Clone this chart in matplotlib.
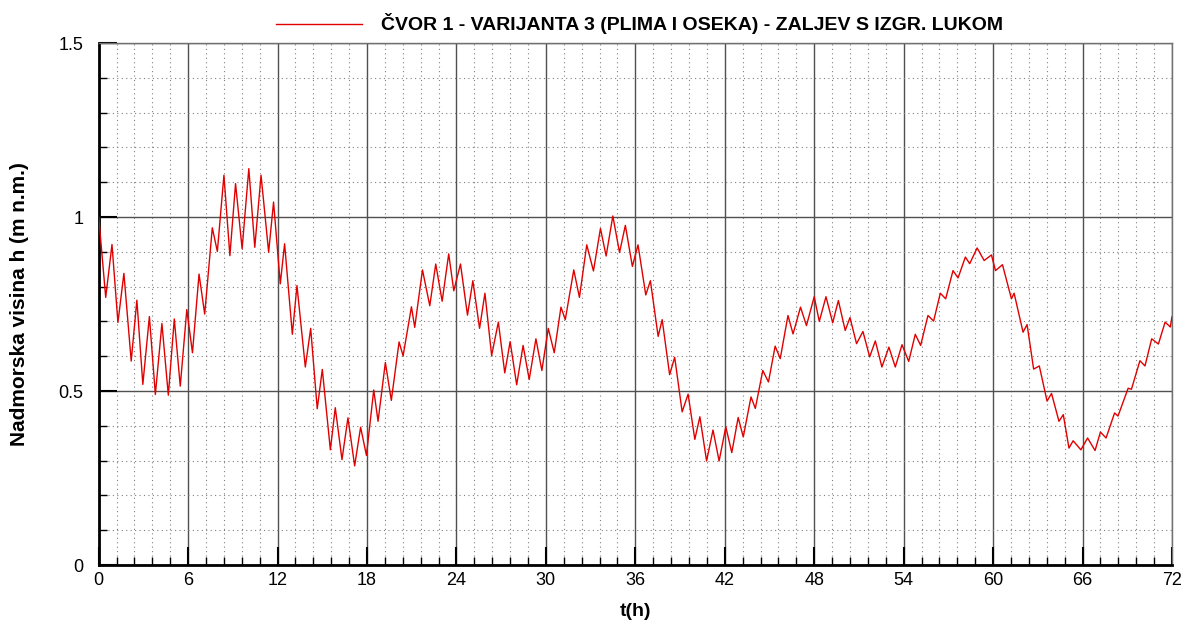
import matplotlib.pyplot as plt
import numpy as np
from matplotlib.ticker import MultipleLocator, FuncFormatter

# vrijeme (h) i razina (m n.m.) - ocitano s grafa (vrhovi i dolovi)
t_h = [0.0, 0.47, 0.89, 1.29, 1.69, 2.18, 2.56, 2.96, 3.4, 3.8, 4.24, 4.67, 5.07, 5.47, 5.91,
       6.29, 6.73, 7.11, 7.62, 7.96, 8.4, 8.8, 9.18, 9.62, 10.07, 10.47, 10.89, 11.4, 11.73, 12.18,
       12.47, 12.99, 13.3, 13.86, 14.22, 14.66, 15.0, 15.54, 15.87, 16.32, 16.72, 17.17, 17.57, 17.96,
       18.45, 18.74, 19.23, 19.63, 20.15, 20.42, 20.98, 21.2, 21.72, 22.21, 22.61, 23.04, 23.48, 23.82,
       24.27, 24.74, 25.1, 25.55, 25.91, 26.36, 26.81, 27.24, 27.6, 28.04, 28.47, 28.88, 29.33, 29.73,
       30.16, 30.56, 31.01, 31.3, 31.87, 32.25, 32.74, 33.19, 33.66, 34.04, 34.49, 34.94, 35.33, 35.8,
       36.18, 36.7, 37.01, 37.53, 37.8, 38.3, 38.64, 39.14, 39.54, 39.99, 40.33, 40.78, 41.21, 41.62,
       42.07, 42.47, 42.9, 43.24, 43.76, 44.05, 44.55, 44.93, 45.38, 45.72, 46.24, 46.58, 47.08, 47.48,
       48.0, 48.34, 48.79, 49.24, 49.62, 50.08, 50.4, 50.84, 51.27, 51.72, 52.1, 52.54, 53.01, 53.44,
       53.89, 54.34, 54.78, 55.14, 55.63, 56.01, 56.46, 56.82, 57.31, 57.65, 58.14, 58.43, 58.93, 59.4,
       59.89, 60.16, 60.63, 61.23, 61.41, 62.01, 62.28, 62.72, 63.1, 63.62, 63.92, 64.42, 64.71, 65.09,
       65.37, 65.89, 66.34, 66.84, 67.2, 67.58, 68.15, 68.38, 69.06, 69.28, 69.85, 70.19, 70.64, 71.09,
       71.54, 71.89, 72.0]
h_m = [1.0, 0.769, 0.921, 0.697, 0.838, 0.586, 0.761, 0.519, 0.714, 0.49, 0.694, 0.488, 0.707, 0.514, 0.734,
       0.61, 0.836, 0.721, 0.969, 0.901, 1.12, 0.889, 1.096, 0.909, 1.139, 0.913, 1.12, 0.899, 1.043, 0.808,
       0.923, 0.663, 0.803, 0.569, 0.68, 0.449, 0.562, 0.331, 0.452, 0.303, 0.423, 0.285, 0.396, 0.315,
       0.503, 0.413, 0.582, 0.473, 0.641, 0.601, 0.742, 0.683, 0.848, 0.745, 0.865, 0.758, 0.894, 0.788,
       0.865, 0.718, 0.817, 0.68, 0.781, 0.602, 0.698, 0.552, 0.642, 0.518, 0.631, 0.533, 0.65, 0.559,
       0.68, 0.61, 0.741, 0.705, 0.848, 0.769, 0.92, 0.845, 0.967, 0.888, 1.003, 0.898, 0.976, 0.858,
       0.92, 0.776, 0.817, 0.657, 0.705, 0.547, 0.597, 0.44, 0.491, 0.361, 0.426, 0.299, 0.388, 0.299,
       0.397, 0.323, 0.424, 0.368, 0.483, 0.45, 0.559, 0.526, 0.629, 0.593, 0.717, 0.664, 0.741, 0.688,
       0.771, 0.7, 0.771, 0.696, 0.76, 0.674, 0.711, 0.636, 0.671, 0.598, 0.644, 0.569, 0.626, 0.569,
       0.633, 0.585, 0.663, 0.631, 0.717, 0.701, 0.781, 0.765, 0.846, 0.825, 0.885, 0.866, 0.911, 0.875,
       0.891, 0.846, 0.863, 0.765, 0.781, 0.669, 0.691, 0.563, 0.572, 0.471, 0.493, 0.413, 0.432, 0.336,
       0.357, 0.331, 0.365, 0.329, 0.382, 0.365, 0.437, 0.428, 0.508, 0.505, 0.587, 0.572, 0.65, 0.635,
       0.698, 0.684, 0.713]

naslov = "ČVOR 1 - VARIJANTA 3 (PLIMA I OSEKA) - ZALJEV S IZGR. LUKOM"
font = ["Liberation Sans", "DejaVu Sans"]

fig = plt.figure(figsize=(11.85, 6.28), dpi=100)
ax = fig.add_axes([0.0833, 0.1003, 0.9057, 0.8312])

ax.plot(t_h, h_m, color="#e00000", linewidth=1.0, label=naslov, zorder=3)

ax.set_xlim(0, 72)
ax.set_ylim(0, 1.5)
ax.xaxis.set_major_locator(MultipleLocator(6))
ax.xaxis.set_minor_locator(MultipleLocator(1.2))
ax.yaxis.set_major_locator(MultipleLocator(0.5))
ax.yaxis.set_minor_locator(MultipleLocator(0.1))
ax.yaxis.set_major_formatter(FuncFormatter(lambda v, p: "%g" % v))

# mreza: pune linije za glavne, tockaste za sporedne
ax.grid(which="major", color="#505050", linewidth=1.0, linestyle="-", zorder=1)
ax.grid(which="minor", color="#808080", linewidth=0.8, linestyle=(0, (1, 3)), zorder=1)

ax.tick_params(which="major", direction="in", length=13, width=1.5, labelsize=13)
ax.tick_params(axis="x", which="major", pad=5)
ax.tick_params(axis="y", which="major", pad=11)
ax.tick_params(which="minor", direction="in", length=6, width=1.0)
for lab in ax.get_xticklabels() + ax.get_yticklabels():
    lab.set_family(font)

for s in ["left", "bottom"]:
    ax.spines[s].set_linewidth(2)
    ax.spines[s].set_color("black")
for s in ["top", "right"]:
    ax.spines[s].set_linewidth(1)
    ax.spines[s].set_color("#707070")

ax.set_xlabel("t(h)", fontsize=14, fontweight="bold", family=font, labelpad=10)
ax.set_ylabel("Nadmorska visina h (m n.m.)", fontsize=15, fontweight="bold", family=font, labelpad=21)

fig.legend(loc="center", bbox_to_anchor=(0.54, 0.962), frameon=False,
           handlelength=4.4, handletextpad=1.0,
           prop=dict(family=font, weight="bold", size=14))

plt.savefig("out.png", dpi=100)
